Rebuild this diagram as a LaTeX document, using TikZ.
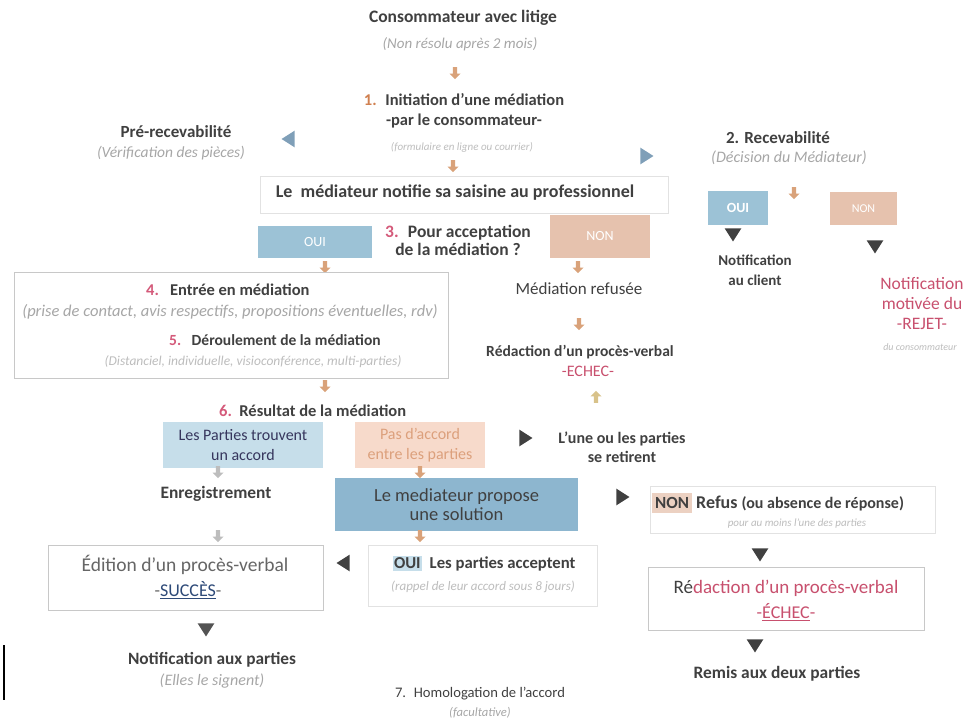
\documentclass[tikz,border=0pt]{standalone}
\usepackage{fontspec}
\setmainfont{Carlito}
\usetikzlibrary{shapes.geometric,shapes.arrows}
\definecolor{tdark}{HTML}{404040}
\definecolor{tgray}{HTML}{A6A6A6}
\definecolor{tfaint}{HTML}{BDBDBD}
\definecolor{numred}{HTML}{D45A7A}
\definecolor{numor}{HTML}{D08050}
\definecolor{redtxt}{HTML}{C8506E}
\definecolor{boxblue}{HTML}{9CC2D6}
\definecolor{boxblueL}{HTML}{C6DEEA}
\definecolor{boxblueD}{HTML}{8DB6CF}
\definecolor{boxtan}{HTML}{E6C2AE}
\definecolor{boxpeach}{HTML}{F7DACB}
\definecolor{arrowor}{HTML}{D9A27A}
\definecolor{arrowyl}{HTML}{D8C28A}
\definecolor{tribl}{HTML}{7F9FB8}
\definecolor{framegray}{HTML}{C8C8C8}
\definecolor{framefaint}{HTML}{E2E2E2}
\definecolor{ulblue}{HTML}{2E4A78}
\newcommand{\fs}[1]{\fontsize{#1}{#1}\selectfont}
\tikzset{
  x=1pt, y=-1pt,
  txt/.style={text=tdark, align=center, inner sep=1pt, font=\bfseries},
  txtl/.style={text=tdark, align=center, inner sep=1pt},
  sub/.style={text=tgray, align=center, inner sep=1pt, font=\itshape},
  tiny/.style={text=tfaint, align=center, inner sep=1pt, font=\itshape},
  fillbox/.style={draw=none, fill=#1, inner sep=0pt},
  frame/.style={draw=#1, line width=0.9pt, fill=white, inner sep=0pt},
  oarr/.style={single arrow, shape border rotate=270, fill=#1, draw=none, minimum height=12pt, minimum width=11pt, single arrow head extend=2pt, inner sep=1pt},
  uarr/.style={single arrow, shape border rotate=90, fill=#1, draw=none, minimum height=12pt, minimum width=11pt, single arrow head extend=2pt, inner sep=1pt},
  tri/.style={isosceles triangle, isosceles triangle apex angle=65, fill=#1, draw=none, inner sep=0pt, minimum size=13pt},
}
\begin{document}
\begin{tikzpicture}
\useasboundingbox (0,0) rectangle (969,720);
% title
\node[txt] (title) at (463,18) {\fs{17.5}Consommateur avec litige};
\node[sub] (titlesub) at (460,44) {\fs{15}(Non résolu après 2 mois)};
\node[oarr=arrowor] (a1) at (455,72) {};
\node[txt, font=\fontsize{16.5}{20}\selectfont\bfseries] (init) at (464,111) {\textcolor{numor}{1.}~ Initiation d'une médiation\\-par le consommateur-};
\node[tiny] (initsub) at (462,147) {\fs{11}(formulaire en ligne ou courrier)};
\node[oarr=arrowor] (a2) at (453,165) {};
% pre-recevabilite
\node[txt] (prerec) at (176,132) {\fs{17}Pré-recevabilité};
\node[sub] (presub) at (171,153) {\fs{15.5}(Vérification des pièces)};
\node[tri=tribl, shape border rotate=180] (triL) at (290,139) {};
\node[tri=tribl] (triR) at (645,156) {};
% recevabilite
\node[txt] (rec) at (778,138) {\fs{17}2. Recevabilité};
\node[sub] (recsub) at (789,158) {\fs{16}(Décision du Médiateur)};
% notif box
\node[frame=framefaint, minimum width=408pt, minimum height=37pt] (notif) at (464,194.5) {};
\node[txt] (notiftxt) at (455,193) {\fs{18}Le~ médiateur notifie sa saisine au professionnel};
% OUI / NON recevabilite
\node[fillbox=boxblue, minimum width=60pt, minimum height=34pt, text=white, font=\fs{14}\bfseries] (oui2) at (738,208) {OUI};
\node[oarr=arrowor] (a2b) at (794,192) {};
\node[fillbox=boxtan, minimum width=67pt, minimum height=33pt, text=white, font=\fs{12}] (non2) at (863.5,208.5) {NON};
\node[tri=tdark, shape border rotate=-90] (t2a) at (733,233) {};
\node[tri=tdark, shape border rotate=-90] (t2b) at (875,245) {};
\node[txt, font=\fontsize{15}{20}\selectfont\bfseries] (notifcl) at (755,270) {Notification\\au client};
\node[txtl, text=redtxt, font=\fontsize{17.5}{20}\selectfont] (rejet) at (922,304) {Notification\\motivée du\\-REJET-};
\node[tiny] (rejsub) at (920,347) {\fs{10}du consommateur};
% 3 acceptation
\node[fillbox=boxblue, minimum width=114pt, minimum height=32pt, text=white, font=\fs{14}] (oui3) at (315,242) {OUI};
\node[txt, font=\fontsize{17.5}{18}\selectfont\bfseries] (q3) at (458,240) {\textcolor{numred}{3.}~ Pour acceptation\\de la médiation ?};
\node[fillbox=boxtan, minimum width=100pt, minimum height=43pt, text=white, font=\fs{14}] (non3) at (600,236.5) {NON};
\node[oarr=arrowor] (a3) at (325,266) {};
\node[oarr=arrowor] (a4) at (578,266) {};
% box 4/5
\node[frame=framegray, minimum width=434pt, minimum height=106pt] (box45) at (231,325) {};
\node[txt, anchor=west] (entree) at (145,290) {\fs{16.5}\textcolor{numred}{4.}~~~Entrée en médiation};
\node[sub] (entsub) at (230,312) {\fs{16.5}(prise de contact, avis respectifs, propositions éventuelles, rdv)};
\node[txt, anchor=west] (deroul) at (168,340) {\fs{15.5}\textcolor{numred}{5.}~~~Déroulement de la médiation};
\node[tiny] (dersub) at (253,362) {\fs{13.5}(Distanciel, individuelle, visioconférence, multi-parties)};
% refusee
\node[txtl] (refusee) at (579,289) {\fs{17}Médiation refusée};
\node[oarr=arrowor] (a5) at (579,323) {};
\node[txt] (redac1) at (580,352) {\fs{15.5}Rédaction d'un procès-verbal};
\node[txtl, text=redtxt] (echec1) at (588,371) {\fs{16}-ECHEC-};
\node[uarr=arrowyl] (a6) at (596,398) {};
\node[oarr=arrowor] (a7) at (325,385) {};
% 6
\node[txt, anchor=west] (res6) at (218,411) {\fs{16.5}\textcolor{numred}{6.}~~Résultat de la médiation};
\node[fillbox=boxblueL, minimum width=160pt, minimum height=46pt, text=tdark!85!blue, align=center, font=\fontsize{16}{20}\selectfont] (accord) at (243,445) {Les Parties trouvent\\un accord};
\node[fillbox=boxpeach, minimum width=130pt, minimum height=46pt, text=numor!75, align=center, font=\fontsize{16}{20}\selectfont] (pasacc) at (420,445) {Pas d'accord\\entre les parties};
\node[tri=tdark] (t6) at (524,438) {};
\node[txt, font=\fontsize{16}{19}\selectfont\bfseries] (retirent) at (622,447) {L'une ou les parties\\se retirent};
\node[oarr=tfaint] (a8) at (218,471) {};
\node[oarr=arrowor] (a9) at (420,471) {};
\node[txt] (enreg) at (216,494) {\fs{17.4}Enregistrement};
\node[fillbox=boxblueD, minimum width=243pt, minimum height=53pt, text=tdark, align=center, font=\fontsize{18.5}{19}\selectfont] (propose) at (456.5,504.5) {Le mediateur propose\\une solution};
\node[tri=tdark] (t7) at (621,497) {};
% refus
\node[frame=framefaint, minimum width=285pt, minimum height=47pt] (refusbox) at (792.5,509.5) {};
\node[fillbox=boxtan!75, minimum width=40pt, minimum height=20pt, text=tdark, font=\fs{17}\bfseries] (nonr) at (672,503) {NON};
\node[txt, anchor=west] (refus) at (695,503) {\fs{18}Refus \fs{16}(ou absence de réponse)};
\node[tiny] (refsub) at (797,524) {\fs{11}pour au moins l'une des parties};
\node[tri=tdark, shape border rotate=-90] (t8) at (760,553) {};
\node[frame=framegray, minimum width=276pt, minimum height=63pt] (echbox) at (786,598.5) {};
\node[txtl, text=redtxt] (redac2) at (786,588) {\fs{19}\textcolor{tdark}{Ré}daction d'un procès-verbal};
\node[txtl, text=redtxt] (echec2) at (786,612) {\fs{18}-\underline{ÉCHEC}-};
\node[tri=tdark, shape border rotate=-90] (t9) at (755,644) {};
\node[txt] (remis) at (777,674) {\fs{17.4}Remis aux deux parties};
% accept / edition
\node[oarr=tfaint] (a10) at (218,535) {};
\node[oarr=arrowor] (a11) at (420,535) {};
\node[frame=framegray, minimum width=275pt, minimum height=65pt] (edbox) at (185.5,577.5) {};
\node[txtl, text=tdark!80] (edition) at (185,565) {\fs{19.5}Édition d'un procès-verbal};
\node[txtl, text=tdark!80] (succes) at (188,590) {\fs{18}-\textcolor{ulblue}{\underline{SUCCÈS}}-};
\node[tri=tdark, shape border rotate=180] (t10) at (345,563) {};
\node[frame=framefaint, minimum width=229pt, minimum height=61pt] (accbox) at (482.5,575.5) {};
\node[txt] (accept) at (484,564) {\fs{16.7}\setlength{\fboxsep}{1.5pt}\colorbox{boxblueL}{OUI}~ Les parties acceptent};
\node[tiny] (accsub) at (483,587) {\fs{13}(rappel de leur accord sous 8 jours)};
\node[tri=tdark!90, shape border rotate=-90] (t11) at (206,628) {};
\node[txt] (notifp) at (212,660) {\fs{17.3}Notification aux parties};
\node[sub] (notifpsub) at (212,681) {\fs{16}(Elles le signent)};
\coordinate (barA) at (4,645);
\coordinate (barB) at (4,700);
\draw[line width=1.5pt, black] (barA) -- (barB);
\node[txtl] (homol) at (480,694) {\fs{14.6}7.~ Homologation de l'accord};
\node[sub] (homolsub) at (480,713) {\fs{12.6}(facultative)};
\end{tikzpicture}
\end{document}
